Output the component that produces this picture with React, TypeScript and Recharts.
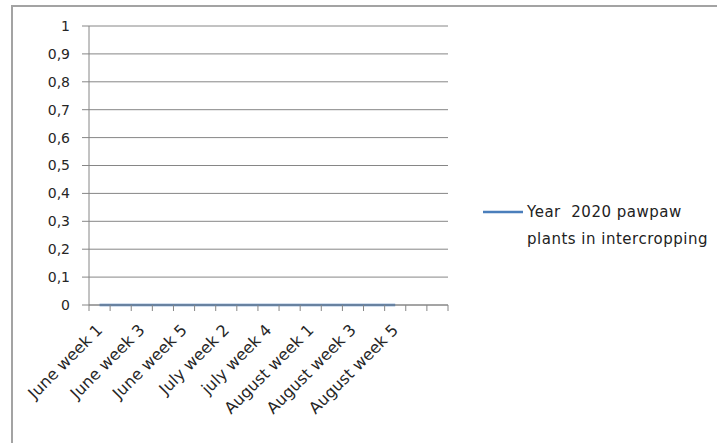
import { LineChart, Line, XAxis, YAxis, CartesianGrid, Legend } from "recharts"

const categories = [
  "June week 1", "June week 2", "June week 3", "June week 4", "June week 5",
  "July week 1", "July week 2", "July week 3", "july week 4", "July week 5",
  "August week 1", "August week 2", "August week 3", "August week 4", "August week 5",
  "", "",
]
const pawpaw2020 = [0, 0, 0, 0, 0, 0, 0, 0, 0, 0, 0, 0, 0, 0, 0]
const yTicks = [0, 0.1, 0.2, 0.3, 0.4, 0.5, 0.6, 0.7, 0.8, 0.9, 1]
const boundaryTicks = [0, 1, 2, 3, 4, 5, 6, 7, 8, 9, 10, 11, 12, 13, 14, 15, 16, 17]
const labelTicks = [0.5, 2.5, 4.5, 6.5, 8.5, 10.5, 12.5, 14.5]
const seriesName = "Year  2020 pawpaw plants in intercropping"

const data = categories.map((c, i) => ({
  x: i + 0.5,
  name: c,
  value: i < pawpaw2020.length ? pawpaw2020[i] : null,
}))

const AXIS = "#868686"
const FONT = "DejaVu Sans"

function NoLabel() {
  return <g />
}

// eslint-disable-next-line @typescript-eslint/no-explicit-any
function XLabel({ x, y, payload }: any) {
  const label = categories[Math.floor(payload.value)] ?? ""
  return (
    <g transform={`translate(${x + 4},${y + 16}) rotate(-45)`}>
      <text x={0} y={0} textAnchor="end" fontSize={16} fontFamily={FONT} fill="#262626">
        {label}
      </text>
    </g>
  )
}

// eslint-disable-next-line @typescript-eslint/no-explicit-any
function LegendBox({ payload }: any) {
  const item = payload && payload[0]
  return (
    <div style={{ display: "flex", alignItems: "flex-start", fontFamily: FONT }}>
      <svg width={44} height={20} style={{ flex: "none" }}>
        <line x1={0} y1={10} x2={40} y2={10} stroke={item ? item.color : "#4a7ebb"} strokeWidth={2.5} />
      </svg>
      <div
        style={{
          width: 188,
          fontSize: 15,
          letterSpacing: 0.5,
          lineHeight: "27px",
          marginTop: -3,
          color: "#222",
          whiteSpace: "pre-wrap",
        }}
      >
        {item ? item.value : seriesName}
      </div>
    </div>
  )
}

export default function App() {
  return (
    <div
      style={{
        position: "fixed",
        left: 0,
        top: 0,
        width: 717,
        height: 443,
        background: "#fff",
        overflow: "hidden",
      }}
    >
      <div
        style={{
          position: "absolute",
          left: 11,
          top: 5,
          width: 800,
          height: 500,
          borderTop: "2px solid #a3a3a3",
          borderLeft: "2px solid #a3a3a3",
        }}
      />
      <div style={{ position: "absolute", left: 0, top: 0 }}>
        <LineChart width={717} height={443} data={data} margin={{ top: 26, right: 269, left: 29, bottom: 18 }}>
          <CartesianGrid horizontal vertical={false} stroke={AXIS} strokeWidth={1} />
          <XAxis
            xAxisId={0}
            type="number"
            dataKey="x"
            domain={[0, 17]}
            ticks={boundaryTicks}
            interval={0}
            tick={<NoLabel />}
            tickSize={6}
            height={10}
            axisLine={{ stroke: AXIS }}
            tickLine={{ stroke: AXIS }}
          />
          <XAxis
            xAxisId={1}
            type="number"
            dataKey="x"
            domain={[0, 17]}
            ticks={labelTicks}
            interval={0}
            tick={<XLabel />}
            tickSize={0}
            tickMargin={0}
            height={110}
            axisLine={false}
            tickLine={false}
          />
          <YAxis
            domain={[0, 1]}
            ticks={yTicks}
            interval={0}
            width={60}
            tickSize={7}
            tickMargin={12}
            tickFormatter={(v: number) => String(v).replace(".", ",")}
            tick={{ fontSize: 14, fontFamily: FONT, fill: "#262626" }}
            axisLine={{ stroke: AXIS }}
            tickLine={{ stroke: AXIS }}
          />
          <Legend
            layout="horizontal"
            verticalAlign="middle"
            align="center"
            content={<LegendBox />}
            wrapperStyle={{ left: 483, top: 202, width: 234 }}
          />
          <Line
            xAxisId={0}
            type="linear"
            dataKey="value"
            name={seriesName}
            stroke="#4a7ebb"
            strokeWidth={2.5}
            dot={false}
            isAnimationActive={false}
          />
        </LineChart>
      </div>
    </div>
  )
}
